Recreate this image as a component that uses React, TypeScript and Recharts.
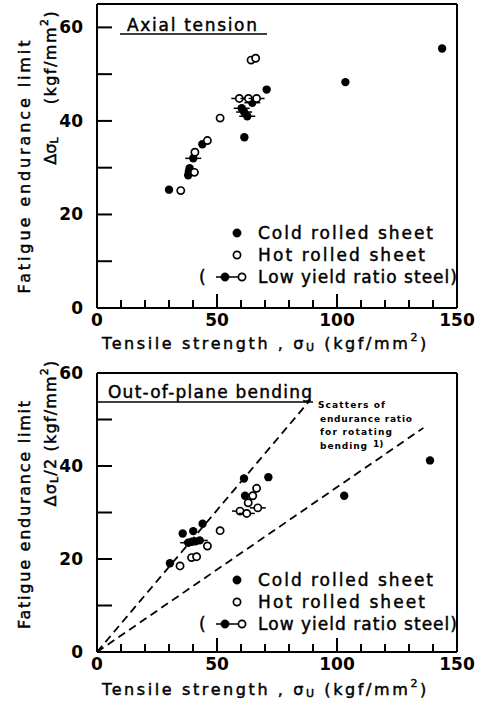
import React from 'react';
import { ScatterChart, Scatter, XAxis, YAxis, ReferenceLine } from 'recharts';

// Axial tension panel
const axialCold = [
  { x: 30, y: 25.3 }, { x: 38, y: 28.4 }, { x: 38.3, y: 29.2 }, { x: 38.6, y: 29.9 },
  { x: 43.9, y: 35 }, { x: 61.4, y: 36.5 }, { x: 70.7, y: 46.7 }, { x: 103.5, y: 48.3 },
  { x: 143.8, y: 55.5 },
];
const axialHot = [
  { x: 34.9, y: 25.1 }, { x: 40.6, y: 29 }, { x: 40.8, y: 33.3 }, { x: 46, y: 35.8 },
  { x: 51.3, y: 40.6 }, { x: 64.2, y: 53 }, { x: 66.1, y: 53.4 },
];
const axialLowCold = [
  { x: 40.1, y: 32 }, { x: 60.3, y: 42.7 }, { x: 61.3, y: 41.9 }, { x: 62.6, y: 41 }, { x: 64.7, y: 43.9 },
];
const axialLowHot = [{ x: 59.3, y: 44.8 }, { x: 63.1, y: 44.8 }, { x: 66.5, y: 44.8 }];

// Out-of-plane bending panel
const bendCold = [
  { x: 30.4, y: 19.1 }, { x: 35.7, y: 25.5 }, { x: 40.1, y: 26 }, { x: 44, y: 27.6 },
  { x: 61.25, y: 37.3 }, { x: 71.4, y: 37.6 }, { x: 61.7, y: 33.6 }, { x: 103, y: 33.6 },
  { x: 138.75, y: 41.2 },
];
const bendHot = [
  { x: 34.6, y: 18.5 }, { x: 39.4, y: 20.3 }, { x: 41.5, y: 20.5 }, { x: 46, y: 22.8 },
  { x: 51.3, y: 26.1 }, { x: 66.5, y: 35.2 }, { x: 64.9, y: 33.6 }, { x: 63, y: 32.1 },
];
const bendLowCold = [{ x: 38, y: 23.5 }, { x: 39.5, y: 23.7 }, { x: 41, y: 23.8 }, { x: 42.8, y: 24 }];
const bendLowHot = [{ x: 59.6, y: 30.3 }, { x: 62.4, y: 29.8 }, { x: 67, y: 31 }];

// endurance ratio scatter band (rotating bending)
const upperRatio = [{ x: 0, y: 0 }, { x: 89, y: 54.3 }];
const lowerRatio = [{ x: 0, y: 0 }, { x: 136, y: 48.2 }];

const xTicks = [0, 10, 20, 30, 40, 50, 60, 70, 80, 90, 100, 110, 120, 130, 140, 150];
const xLabels = [0, 50, 100, 150];
const xMajor = [50, 100];
const yTicks = [0, 10, 20, 30, 40, 50, 60];
const yLabels = [0, 20, 40, 60];

const FONT = '"DejaVu Sans", sans-serif';
const INK = { stroke: '#000', strokeWidth: 0.45 };
const PLOT_LEFT = 97;
const PLOT_RIGHT = 457;

const YTick = (props: any) => {
  const v = Number(props.payload.value);
  if (!yLabels.includes(v)) return <g />;
  return (
    <text x={props.x} y={props.y} textAnchor="end" dominantBaseline="central" fontFamily={FONT} fontWeight="bold" fontSize={17} fill="#000">
      {v}
    </text>
  );
};

const XTick = (props: any) => {
  const v = Number(props.payload.value);
  if (!xLabels.includes(v)) return <g />;
  return (
    <text x={props.x} y={props.y} textAnchor="middle" dominantBaseline="central" fontFamily={FONT} fontWeight="bold" fontSize={17} fill="#000">
      {v}
    </text>
  );
};

const filled = (p: any) => <circle cx={p.cx} cy={p.cy} r={4.2} fill="#000" />;
const open = (p: any) => <circle cx={p.cx} cy={p.cy} r={3.6} fill="#fff" stroke="#000" strokeWidth={1.7} />;
const lowFilled = (p: any) => (
  <g>
    <line x1={p.cx - 8} x2={p.cx + 8} y1={p.cy} y2={p.cy} stroke="#000" strokeWidth={1.5} />
    <circle cx={p.cx} cy={p.cy} r={4.2} fill="#000" />
  </g>
);
const lowOpen = (p: any) => (
  <g>
    <line x1={p.cx - 8} x2={p.cx + 8} y1={p.cy} y2={p.cy} stroke="#000" strokeWidth={1.5} />
    <circle cx={p.cx} cy={p.cy} r={3.6} fill="#fff" stroke="#000" strokeWidth={1.7} />
  </g>
);
// inward tick marks, placed through the chart scales
const xTickMark = (p: any) => {
  const len = xMajor.includes(Number(p.payload?.x ?? p.x)) ? 14 : 8;
  return <rect x={p.cx - 1} y={p.cy - len} width={2} height={len} fill="#000" />;
};
const yTickMark = (p: any) => <rect x={p.cx} y={p.cy - 1} width={15} height={2} fill="#000" />;

type Pt = { x: number; y: number };
type PanelProps = {
  height: number;
  top: number;
  bottom: number;
  yMax: number;
  cold: Pt[];
  hot: Pt[];
  lowCold: Pt[];
  lowHot: Pt[];
  bands?: Pt[][];
};

const Panel = ({ height, top, bottom, yMax, cold, hot, lowCold, lowHot, bands }: PanelProps) => {
  const xMarks = xTicks.filter((t) => t > 0 && t < 150).map((t) => ({ x: t, y: 0 }));
  const yMarks = yTicks.filter((t) => t > 0 && t < yMax).map((t) => ({ x: 0, y: t }));
  return (
    <ScatterChart width={482} height={height} margin={{ top, right: 482 - PLOT_RIGHT, bottom: bottom - 30, left: PLOT_LEFT - 40 }}>
      <XAxis
        type="number"
        dataKey="x"
        domain={[0, 150]}
        ticks={xTicks}
        interval={0}
        height={30}
        tickSize={0}
        tickMargin={12}
        tickLine={false}
        tick={(p: any) => <XTick {...p} />}
        axisLine={{ stroke: '#000', strokeWidth: 2 }}
      />
      <YAxis
        type="number"
        dataKey="y"
        domain={[0, yMax]}
        ticks={yTicks}
        interval={0}
        width={40}
        tickSize={0}
        tickMargin={14}
        tickLine={false}
        tick={(p: any) => <YTick {...p} />}
        axisLine={{ stroke: '#000', strokeWidth: 2 }}
      />
      {/* frame */}
      <ReferenceLine y={yMax} stroke="#000" strokeWidth={2} />
      <ReferenceLine x={150} stroke="#000" strokeWidth={2} />
      {bands &&
        bands.map((b, i) => (
          <ReferenceLine key={i} segment={b} stroke="#000" strokeWidth={1.8} strokeDasharray="8 5" />
        ))}
      <Scatter data={xMarks} shape={xTickMark} isAnimationActive={false} />
      <Scatter data={yMarks} shape={yTickMark} isAnimationActive={false} />
      <Scatter data={lowCold} shape={lowFilled} isAnimationActive={false} />
      <Scatter data={lowHot} shape={lowOpen} isAnimationActive={false} />
      <Scatter data={cold} shape={filled} isAnimationActive={false} />
      <Scatter data={hot} shape={open} isAnimationActive={false} />
    </ScatterChart>
  );
};

const Legend = ({ y }: { y: number }) => (
  <g fontFamily={FONT} fontSize={17} {...INK}>
    <circle cx={237} cy={y} r={4.2} fill="#000" />
    <text x={258} y={y} dominantBaseline="central" textLength={175} lengthAdjust="spacing">Cold rolled sheet</text>
    <circle cx={237} cy={y + 22} r={3.6} fill="#fff" stroke="#000" strokeWidth={1.7} />
    <text x={258} y={y + 22} dominantBaseline="central" textLength={167} lengthAdjust="spacing">Hot rolled sheet</text>
    <text x={199} y={y + 44} dominantBaseline="central">(</text>
    <line x1={216} x2={243} y1={y + 44} y2={y + 44} stroke="#000" strokeWidth={1.5} />
    <circle cx={225} cy={y + 44} r={4.2} fill="#000" />
    <circle cx={242} cy={y + 44} r={3.6} fill="#fff" stroke="#000" strokeWidth={1.7} />
    <text x={258} y={y + 44} dominantBaseline="central" textLength={199} lengthAdjust="spacing">Low yield ratio steel)</text>
  </g>
);

const XTitle = ({ y }: { y: number }) => (
  <text x={102} y={y} fontFamily={FONT} fontSize={16} letterSpacing={2.6} dominantBaseline="central" {...INK}>
    Tensile strength , σ<tspan fontSize={11} dy={4}>U</tspan>
    <tspan dy={-4}> (kgf/mm</tspan>
    <tspan fontSize={11} dy={-6}>2</tspan>
    <tspan dy={6}>)</tspan>
  </text>
);

const App = () => (
  <div style={{ position: 'absolute', left: 0, top: 0, width: 482, height: 711, background: '#fff' }}>
    <div style={{ position: 'absolute', left: 0, top: 0 }}>
      <Panel height={360} top={4} bottom={52} yMax={65}
        cold={axialCold} hot={axialHot} lowCold={axialLowCold} lowHot={axialLowHot} />
    </div>
    <div style={{ position: 'absolute', left: 0, top: 360 }}>
      <Panel height={351} top={13} bottom={59} yMax={60}
        cold={bendCold} hot={bendHot} lowCold={bendLowCold} lowHot={bendLowHot}
        bands={[upperRatio, lowerRatio]} />
    </div>
    <svg width={482} height={711} style={{ position: 'absolute', left: 0, top: 0, pointerEvents: 'none' }}>
      {/* panel titles */}
      <text x={127} y={25} fontFamily={FONT} fontSize={17} dominantBaseline="central" textLength={130} lengthAdjust="spacing" {...INK}>Axial tension</text>
      <line x1={120} x2={267} y1={34} y2={34} stroke="#000" strokeWidth={1.5} />
      <text x={108} y={392} fontFamily={FONT} fontSize={17} dominantBaseline="central" textLength={204} lengthAdjust="spacing" {...INK}>Out-of-plane bending</text>
      <line x1={97} x2={313} y1={402} y2={402} stroke="#000" strokeWidth={1.5} />
      <g fontFamily={FONT} fontSize={9} fontWeight="bold" dominantBaseline="central">
        <text x={318} y={405} textLength={67} lengthAdjust="spacing">Scatters of</text>
        <text x={320} y={419} textLength={92} lengthAdjust="spacing">endurance ratio</text>
        <text x={320} y={432} textLength={72} lengthAdjust="spacing">for rotating</text>
        <text x={320} y={446} textLength={47} lengthAdjust="spacing">bending</text>
        <text x={373} y={444}>1)</text>
      </g>
      <Legend y={233} />
      <Legend y={580} />
      <XTitle y={343} />
      <XTitle y={689} />
      {/* y titles */}
      <g fontFamily={FONT} fontSize={16} {...INK}>
        <text transform="rotate(-90 24 167)" x={24} y={167} textAnchor="middle" dominantBaseline="central"
          textLength={253} lengthAdjust="spacing">Fatigue endurance limit</text>
        <text transform="rotate(-90 50 151)" x={50} y={151} textAnchor="middle" dominantBaseline="central">
          Δσ<tspan fontSize={11} dy={4}>L</tspan></text>
        <text transform="rotate(-90 50 57)" x={50} y={57} textAnchor="middle" dominantBaseline="central"
          letterSpacing={1.5}>(kgf/mm<tspan fontSize={11} dy={-6}>2</tspan><tspan dy={6}>)</tspan></text>
        <text transform="rotate(-90 24 515)" x={24} y={515} textAnchor="middle" dominantBaseline="central"
          textLength={228} lengthAdjust="spacing">Fatigue endurance limit</text>
        <text transform="rotate(-90 50 433)" x={50} y={433} textAnchor="middle" dominantBaseline="central"
          letterSpacing={1.2}>Δσ<tspan fontSize={11} dy={4}>L</tspan><tspan dy={-4}>/2  (kgf/mm</tspan><tspan fontSize={11} dy={-6}>2</tspan><tspan dy={6}>)</tspan></text>
      </g>
    </svg>
  </div>
);

export default App;
